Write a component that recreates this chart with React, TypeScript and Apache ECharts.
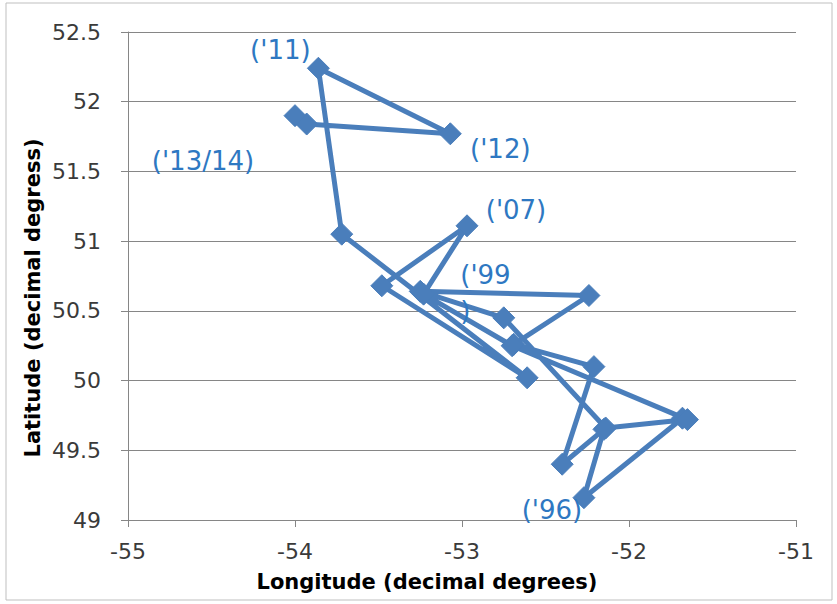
import React, { useEffect, useRef } from "react";
import * as echarts from "echarts";

// Path of positions (longitude, latitude), in drawing order
const longitudes = [
  -51.68, -52.27, -52.15, -52.40, -52.21, -52.69, -52.24, -53.25, -52.75, -52.14,
  -51.65, -52.70, -53.23, -52.97, -53.48, -52.61, -53.72, -53.86, -53.07, -53.93, -54.00,
];
const latitudes = [
  49.73, 49.16, 49.65, 49.40, 50.10, 50.26, 50.61, 50.64, 50.45, 49.66,
  49.72, 50.25, 50.62, 51.11, 50.68, 50.02, 51.05, 52.24, 51.77, 51.84, 51.90,
];
// Year annotations attached to some of the points
const yearLabels = [
  "", "('96)", "", "", "", "", "", "('99\n)", "", "",
  "", "", "", "('07)", "", "", "", "('11)", "('12)", "", "('13/14)",
];
const labelOffsets: Record<number, [number, number]> = {
  1: [-32, 12],
  7: [40, 2],
  13: [49, -16],
  17: [-38, -18],
  18: [50, 15],
  20: [-92, 45],
};

const xTicks = { min: -55, max: -51, interval: 1 };
const yTicks = { min: 49, max: 52.5, interval: 0.5 };

const FONT = "DejaVu Sans";
const LINE = "#4A7EBB";
const LABEL = "#2E78C2";
const AXIS = "#868686";

export default function App() {
  const ref = useRef<HTMLDivElement>(null);
  useEffect(() => {
    document.body.style.margin = "0";
    const chart = echarts.init(ref.current!, undefined, { renderer: "svg" });
    const data = longitudes.map((lon, i) => {
      const item: any = { value: [lon, latitudes[i]] };
      if (yearLabels[i]) {
        const off = labelOffsets[i] || [0, 0];
        item.label = {
          show: true,
          formatter: yearLabels[i],
          position: "inside",
          offset: off,
          color: LABEL,
          fontSize: 26,
          fontFamily: FONT,
          align: i === 7 ? "left" : "center",
          verticalAlign: "middle",
          lineHeight: 36,
        };
      }
      return item;
    });
    chart.setOption({
      animation: false,
      backgroundColor: "#ffffff",
      grid: { left: 128, top: 32, right: 41, bottom: 84, containLabel: false },
      xAxis: {
        type: "value",
        min: xTicks.min,
        max: xTicks.max,
        interval: xTicks.interval,
        axisLine: { show: true, onZero: false, lineStyle: { color: AXIS, width: 1 } },
        axisTick: { show: true, inside: false, length: 7, lineStyle: { color: AXIS } },
        splitLine: { show: false },
        axisLabel: { color: "#3a3a3a", fontSize: 22, fontFamily: FONT, margin: 20 },
      },
      yAxis: {
        type: "value",
        min: yTicks.min,
        max: yTicks.max,
        interval: yTicks.interval,
        axisLine: { show: true, onZero: false, lineStyle: { color: AXIS, width: 1 } },
        axisTick: { show: true, inside: false, length: 7, lineStyle: { color: AXIS } },
        splitLine: { show: true, lineStyle: { color: AXIS, width: 1 } },
        axisLabel: { color: "#3a3a3a", fontSize: 22, fontFamily: FONT, margin: 27 },
      },
      series: [
        {
          type: "line",
          data,
          symbol: "diamond",
          symbolSize: 22,
          lineStyle: { color: LINE, width: 5 },
          itemStyle: { color: LINE, borderColor: LINE },
          label: { show: false },
          z: 3,
        },
      ],
      graphic: [
        {
          type: "rect",
          shape: { x: 6, y: 3, width: 826, height: 597 },
          style: { fill: "none", stroke: "#bfbfbf", lineWidth: 1 },
          silent: true,
        },
        {
          type: "text",
          x: 427,
          y: 582,
          style: {
            text: "Longitude (decimal degrees)",
            fontFamily: FONT,
            fontWeight: "bold",
            fontSize: 21,
            fill: "#000000",
            textAlign: "center",
            textVerticalAlign: "middle",
          },
        },
        {
          type: "text",
          x: 33,
          y: 298,
          rotation: Math.PI / 2,
          style: {
            text: "Latitude (decimal degress)",
            fontFamily: FONT,
            fontWeight: "bold",
            fontSize: 21,
            fill: "#000000",
            textAlign: "center",
            textVerticalAlign: "middle",
          },
        },
      ],
    });
    return () => chart.dispose();
  }, []);
  return <div ref={ref} style={{ width: 837, height: 604 }} />;
}
